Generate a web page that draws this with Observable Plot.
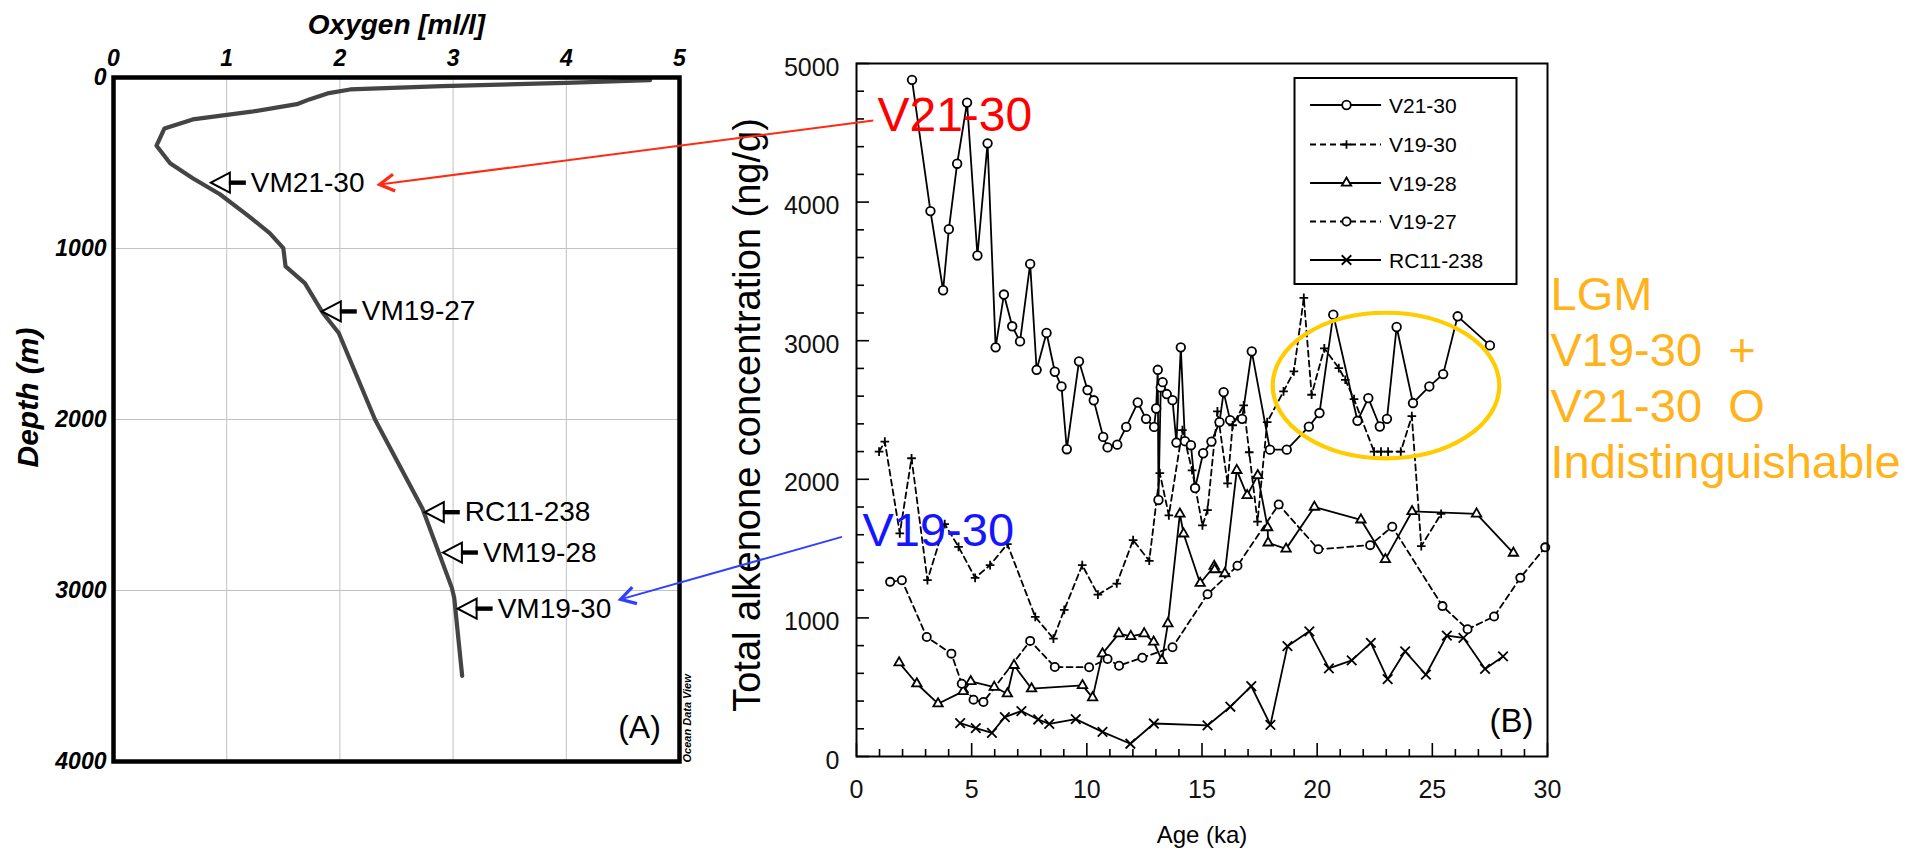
<!DOCTYPE html>
<html><head><meta charset="utf-8">
<script src="https://cdn.jsdelivr.net/npm/d3@7"></script>
<script src="https://cdn.jsdelivr.net/npm/@observablehq/plot@0.6"></script>
<style>
html,body{margin:0;padding:0;background:#fff;}
#wrap{position:relative;width:1925px;height:851px;overflow:hidden;background:#fff;}
#wrap svg{position:absolute;}
svg text{white-space:pre;}
</style></head><body><div id="wrap"></div>
<script>
const FONT = '"Liberation Sans", Arial, Helvetica, sans-serif';

// ---------- Panel A data ----------
const oxygenTicks = [0, 1, 2, 3, 4, 5];
const depthTicks = [0, 1000, 2000, 3000, 4000];
const profileOxygen = [4.74,3.99,2.90,2.09,1.89,1.73,1.62,1.22,0.70,0.45,0.38,0.50,0.70,0.94,1.18,1.38,1.50,1.52,1.69,1.85,1.99,2.31,2.73,2.99,3.01,3.08];
const profileDepth  = [16,31,51,70,93,128,156,200,245,298,399,502,589,683,803,910,998,1105,1202,1377,1494,2000,2522,2986,3044,3499];
const stationNames  = ["VM21-30","VM19-27","RC11-238","VM19-28","VM19-30"];
const stationOxygen = [0.86, 1.84, 2.75, 2.91, 3.04];
const stationDepth  = [615, 1368, 2542, 2778, 3106];

// ---------- Panel B data ----------
const ageTicks = [0, 5, 10, 15, 20, 25, 30];
const concTicks = [0, 1000, 2000, 3000, 4000, 5000];
const seriesNames = ["V21-30", "V19-30", "V19-28", "V19-27", "RC11-238"];
const V21_30 = [[2.41,4882],[3.21,3935],[3.76,3364],[4.01,3805],[4.37,4277],[4.80,4718],[5.25,3615],[5.69,4424],[6.04,2952],[6.40,3333],[6.76,3104],[7.10,2995],[7.54,3554],[7.82,2790],[8.25,3056],[8.61,2776],[8.90,2670],[9.13,2217],[9.66,2851],[10.03,2644],[10.30,2570],[10.71,2306],[10.90,2230],[11.32,2250],[11.71,2378],[12.21,2554],[12.57,2436],[12.92,2378],[13.01,2511],[13.08,2790],[13.11,1851],[13.21,2663],[13.29,2701],[13.47,2615],[13.72,2571],[13.89,2265],[14.08,2952],[14.26,2275],[14.52,2246],[14.70,1937],[15.05,2188],[15.41,2272],[15.76,2412],[15.94,2629],[16.22,2427],[16.74,2436],[17.16,2923],[17.95,2214],[18.68,2214],[19.64,2380],[20.10,2478],[20.70,3188],[21.75,2422],[22.22,2586],[22.72,2381],[23.03,2436],[23.45,3099],[24.16,2550],[24.87,2670],[25.47,2759],[26.10,3176],[27.50,2966]];
const V19_30 = [[0.98,2200],[1.23,2272],[1.88,1610],[2.39,2152],[3.08,1272],[3.83,1677],[4.43,1513],[5.15,1289],[5.80,1381],[6.55,1533],[7.76,1007],[8.55,851],[9.02,1058],[9.80,1381],[10.48,1168],[11.30,1248],[12.01,1561],[12.71,1412],[13.17,2044],[13.56,1740],[14.15,2355],[14.57,2065],[15.02,1667],[15.24,1778],[15.67,2490],[16.11,1971],[16.33,2390],[16.81,2534],[17.05,2195],[17.41,1694],[17.83,2412],[18.54,2634],[18.99,2778],[19.42,3309],[19.76,2610],[20.31,2945],[20.94,2802],[21.22,2718],[21.60,2578],[22.47,2200],[22.77,2200],[23.08,2200],[23.63,2200],[24.11,2456],[24.52,1518],[25.38,1750]];
const V19_28 = [[1.85,677],[2.62,525],[3.54,381],[4.63,470],[4.96,542],[5.98,501],[6.55,453],[6.84,658],[7.60,489],[9.81,513],[10.25,425],[10.68,742],[11.39,887],[11.91,867],[12.49,887],[12.90,827],[13.26,694],[13.52,959],[14.04,1750],[14.20,1607],[14.92,1250],[15.53,1373],[15.55,1349],[15.99,1320],[16.51,2065],[16.96,1884],[17.42,2028],[17.85,1652],[17.87,1542],[18.65,1498],[19.88,1800],[21.90,1708],[22.96,1422],[24.12,1768],[26.92,1751],[28.52,1468]];
const V19_27 = [[1.46,1260],[1.97,1272],[3.05,862],[4.12,742],[4.57,525],[5.08,410],[5.51,393],[7.54,834],[8.61,646],[10.10,644],[10.90,703],[11.40,655],[12.41,713],[13.72,788],[15.24,1171],[16.54,1376],[18.33,1818],[20.05,1495],[22.30,1525],[23.26,1658],[25.44,1085],[26.53,918],[27.68,1010],[28.82,1289],[29.90,1509]];
const RC11_238 = [[4.50,241],[5.18,205],[5.88,171],[6.44,284],[7.16,328],[7.89,267],[8.37,236],[9.52,270],[10.68,178],[11.89,92],[12.91,238],[15.24,224],[16.23,359],[17.14,507],[17.97,228],[18.71,796],[19.66,903],[20.51,636],[21.50,694],[22.33,820],[23.06,558],[23.82,759],[24.72,590],[25.63,872],[26.35,856],[27.29,632],[28.07,722]];

// annotation anchors (data units)
const redLabel = {x: 0.91, y: 4625, text: "V21-30"};
const blueLabel = {x: 0.26, y: 1627, text: "V19-30"};
const lgmLabel = {x: 30.13, y: 2742, text: "LGM\nV19-30  +\nV21-30  O\nIndistinguishable"};
const lgmEllipse = {x: 23.01, y: 2673, rx: 4.92, ry: 525};
const redArrow = {fromAge: 0.75, fromConc: 4585, toOx: 2.354, toDepth: 629};
const blueArrow = {fromAge: -0.61, fromConc: 1581, toOx: 4.483, toDepth: 3055};

// ---------- styles ----------
const seriesStyle = {
  "V21-30":  {data: V21_30, symbol: "circle", r: 4.3, dash: null, fill: "white"},
  "V19-30":  {data: V19_30, symbol: "plus", r: 2.9, dash: "6,4", fill: "none"},
  "V19-28":  {data: V19_28, symbol: "triangle", r: 3.5, dash: null, fill: "white"},
  "V19-27":  {data: V19_27, symbol: "circle", r: 4.1, dash: "6,4", fill: "white"},
  "RC11-238":{data: RC11_238, symbol: "times", r: 4.4, dash: null, fill: "none"}
};
const intFmt = d => String(d);

const wrap = d3.select("#wrap");

// ---------- Panel A ----------
const profile = profileOxygen.map((o, i) => ({o, d: profileDepth[i]}));
const stations = stationNames.map((name, i) => ({name, o: stationOxygen[i], d: stationDepth[i]}));
const triSym = {draw(ctx) { ctx.moveTo(0, 0); ctx.lineTo(19, -10); ctx.lineTo(19, 10); ctx.closePath(); }};
const barSym = {draw(ctx) { ctx.moveTo(18, -2.2); ctx.lineTo(35, -2.2); ctx.lineTo(35, 2.2); ctx.lineTo(18, 2.2); ctx.closePath(); }};
const boldIt = {fontWeight: "bold", fontStyle: "italic"};

const plotA = Plot.plot({
  width: 700, height: 851,
  marginLeft: 113, marginRight: 21, marginTop: 77, marginBottom: 90,
  x: {domain: [0, 5]},
  y: {domain: [0, 4000], reverse: true},
  style: {fontFamily: FONT, background: "transparent", color: "#000", overflow: "visible"},
  marks: [
    Plot.gridX(oxygenTicks.slice(1, -1), {stroke: "#c2c2c2", strokeOpacity: 1, strokeWidth: 1}),
    Plot.gridY(depthTicks.slice(1, -1), {stroke: "#c2c2c2", strokeOpacity: 1, strokeWidth: 1}),
    Plot.line(profile, {x: "o", y: "d", stroke: "#444", strokeWidth: 4.2, strokeLinejoin: "round", strokeLinecap: "round"}),
    Plot.frame({stroke: "#000", strokeWidth: 4.5}),
    Plot.axisX(oxygenTicks, {anchor: "top", tickSize: 0, tickPadding: 12, tickFormat: intFmt, label: null, fontSize: 23, ...boldIt, fill: "#000"}),
    Plot.axisY(depthTicks, {anchor: "left", tickSize: 0, tickPadding: 7, tickFormat: intFmt, label: null, fontSize: 23, ...boldIt, fill: "#000"}),
    Plot.dot(stations, {x: "o", y: "d", symbol: triSym, fill: "white", stroke: "#000", strokeWidth: 2, r: 5}),
    Plot.dot(stations, {x: "o", y: "d", symbol: barSym, fill: "#000", stroke: "none", r: 5}),
    Plot.text(stations, {x: "o", y: "d", text: "name", dx: 40, textAnchor: "start", lineAnchor: "middle", fontSize: 28, fill: "#000"}),
    Plot.text(["Oxygen [ml/l]"], {frameAnchor: "top", dy: -52, textAnchor: "middle", lineAnchor: "middle", fontSize: 28, ...boldIt, fill: "#000"}),
    Plot.text(["Depth (m)"], {frameAnchor: "left", rotate: -90, dx: -85, dy: -22, textAnchor: "middle", lineAnchor: "middle", fontSize: 30, ...boldIt, fill: "#000"}),
    Plot.text(["Ocean Data View"], {frameAnchor: "bottom-right", rotate: -90, dx: 8, dy: 1, textAnchor: "start", lineAnchor: "middle", fontSize: 11, ...boldIt, fill: "#000"}),
    Plot.text(["(A)"], {frameAnchor: "bottom-right", dx: -40, dy: -34, textAnchor: "middle", lineAnchor: "middle", fontSize: 32, fill: "#000"})
  ]
});
plotA.style.left = "0px"; plotA.style.top = "0px";
wrap.node().appendChild(plotA);

// ---------- Panel B ----------
const rows = name => seriesStyle[name].data.map(([age, conc]) => ({age, conc}));
const innerW = 1225 - 156 - 378, innerH = 851 - 63 - 95;
const concMinor = d3.range(200, 5000, 200).filter(v => v % 1000 !== 0);
const ageMinor = d3.range(1, 30, 1).filter(v => v % 5 !== 0);

const seriesMarks = [];
for (const name of seriesNames) {
  const s = seriesStyle[name];
  seriesMarks.push(Plot.line(rows(name), {x: "age", y: "conc", stroke: "#000", strokeWidth: 1.8, strokeDasharray: s.dash}));
}
for (const name of seriesNames) {
  const s = seriesStyle[name];
  seriesMarks.push(Plot.dot(rows(name), {x: "age", y: "conc", symbol: s.symbol, r: s.r, fill: s.fill, stroke: "#000", strokeWidth: 1.8}));
}

const plotB = Plot.plot({
  width: 1225, height: 851,
  marginLeft: 156, marginRight: 378, marginTop: 63, marginBottom: 95,
  x: {domain: [0, 30]},
  y: {domain: [0, 5000]},
  style: {fontFamily: FONT, background: "transparent", color: "#000", overflow: "visible"},
  marks: [
    Plot.tickY(concMinor, {y: d => d, insetRight: innerW - 8, stroke: "#000", strokeWidth: 1.6}),
    Plot.tickY(concTicks, {y: d => d, insetRight: innerW - 13, stroke: "#000", strokeWidth: 1.6}),
    Plot.tickX(ageMinor, {x: d => d, insetTop: innerH - 7, stroke: "#000", strokeWidth: 1.6}),
    Plot.tickX(ageTicks, {x: d => d, insetTop: innerH - 13, stroke: "#000", strokeWidth: 1.6}),
    ...seriesMarks,
    Plot.frame({stroke: "#000", strokeWidth: 2}),
    Plot.axisY(concTicks, {anchor: "left", tickSize: 0, tickPadding: 17, dy: 4, tickFormat: intFmt, label: null, fontSize: 25, fill: "#111"}),
    Plot.axisX(ageTicks, {anchor: "bottom", tickSize: 0, tickPadding: 24, tickFormat: intFmt, label: null, fontSize: 25, fill: "#111"}),
    Plot.text(["Total alkenone concentration (ng/g)"], {frameAnchor: "left", rotate: -90, dx: -109, dy: 5, textAnchor: "middle", lineAnchor: "middle", fontSize: 38, fill: "#000"}),
    Plot.text(["Age (ka)"], {frameAnchor: "bottom", dy: 79, textAnchor: "middle", lineAnchor: "middle", fontSize: 24, fill: "#000"}),
    Plot.text(["(B)"], {frameAnchor: "bottom-right", dx: -36, dy: -35, textAnchor: "middle", lineAnchor: "middle", fontSize: 33, fill: "#000"}),
    Plot.text([redLabel], {x: "x", y: "y", text: "text", textAnchor: "start", lineAnchor: "middle", fontSize: 48, fill: "#ff0000"}),
    Plot.text([blueLabel], {x: "x", y: "y", text: "text", textAnchor: "start", lineAnchor: "middle", fontSize: 47, fill: "#1515ff"}),
    Plot.text([lgmLabel], {x: "x", y: "y", text: "text", textAnchor: "start", lineAnchor: "middle", lineHeight: 1.19, fontSize: 47, fill: "#ffb21a"})
  ]
});
const offBX = 700;
plotB.style.left = offBX + "px"; plotB.style.top = "0px";
wrap.node().appendChild(plotB);

// ---------- overlay: legend, ellipse, arrows ----------
const ax = plotA.scale("x"), ay = plotA.scale("y");
const bx = plotB.scale("x"), by = plotB.scale("y");
const ov = wrap.append("svg").attr("width", 1925).attr("height", 851).style("left", "0px").style("top", "0px")
  .style("font-family", FONT);

// ellipse
ov.append("ellipse")
  .attr("cx", offBX + bx.apply(lgmEllipse.x)).attr("cy", by.apply(lgmEllipse.y))
  .attr("rx", bx.apply(lgmEllipse.x + lgmEllipse.rx) - bx.apply(lgmEllipse.x))
  .attr("ry", by.apply(lgmEllipse.y) - by.apply(lgmEllipse.y + lgmEllipse.ry))
  .attr("fill", "none").attr("stroke", "#ffcc00").attr("stroke-width", 4.2);

// legend
const lg = ov.append("g");
lg.append("rect").attr("x", 1294.5).attr("y", 78).attr("width", 222).attr("height", 206)
  .attr("fill", "white").attr("stroke", "#000").attr("stroke-width", 2);
const legRowY = [105, 144.5, 183, 221.5, 260];
const d3sym = {circle: d3.symbolCircle, plus: d3.symbolPlus, triangle: d3.symbolTriangle, times: d3.symbolTimes};
seriesNames.forEach((name, i) => {
  const s = seriesStyle[name];
  const y = legRowY[i];
  lg.append("line").attr("x1", 1310).attr("x2", 1381).attr("y1", y).attr("y2", y)
    .attr("stroke", "#000").attr("stroke-width", 1.8).attr("stroke-dasharray", s.dash);
  lg.append("path").attr("d", d3.symbol(d3sym[s.symbol], Math.PI * s.r * s.r)())
    .attr("transform", `translate(1346.5,${y})`)
    .attr("fill", s.fill).attr("stroke", "#000").attr("stroke-width", 1.8);
  lg.append("text").attr("x", 1389).attr("y", y).attr("dy", "0.36em").attr("font-size", 21).text(name);
});

// arrows
function arrow(x1, y1, x2, y2, color) {
  ov.append("line").attr("x1", x1).attr("y1", y1).attr("x2", x2).attr("y2", y2)
    .attr("stroke", color).attr("stroke-width", 2);
  const a = Math.atan2(y2 - y1, x2 - x1), L = 17, w = Math.PI / 6;
  const p1 = [x2 - L * Math.cos(a - w), y2 - L * Math.sin(a - w)];
  const p2 = [x2 - L * Math.cos(a + w), y2 - L * Math.sin(a + w)];
  ov.append("path").attr("d", `M${p1}L${x2},${y2}L${p2}`)
    .attr("fill", "none").attr("stroke", color).attr("stroke-width", 3.2).attr("stroke-linejoin", "miter");
}
arrow(offBX + bx.apply(redArrow.fromAge), by.apply(redArrow.fromConc), ax.apply(redArrow.toOx), ay.apply(redArrow.toDepth), "#ff2a10");
arrow(offBX + bx.apply(blueArrow.fromAge), by.apply(blueArrow.fromConc), ax.apply(blueArrow.toOx), ay.apply(blueArrow.toDepth), "#3040ff");
</script></body></html>
